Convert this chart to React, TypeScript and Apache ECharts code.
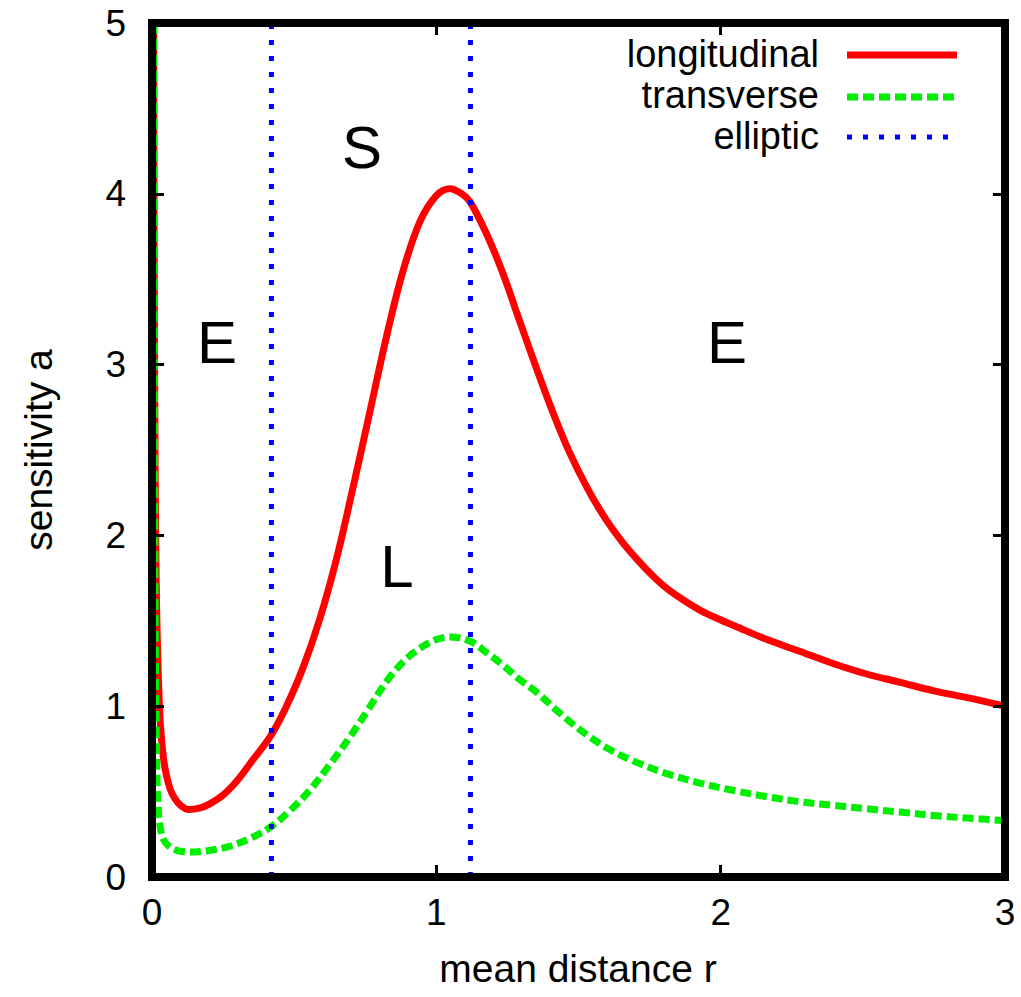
import React, { useEffect, useRef } from "react";
import * as echarts from "echarts";

// ---- data ----
const longitudinalX = [0.006, 0.008, 0.011, 0.015, 0.02, 0.025, 0.03, 0.04, 0.05, 0.065, 0.08, 0.1, 0.13, 0.17, 0.2, 0.25, 0.3, 0.35, 0.415, 0.47, 0.53, 0.59, 0.65, 0.707, 0.767, 0.827, 0.883, 0.943, 1.0, 1.048, 1.09, 1.12, 1.178, 1.235, 1.294, 1.354, 1.41, 1.47, 1.53, 1.59, 1.65, 1.706, 1.76, 1.81, 1.87, 1.93, 2.0, 2.05, 2.163, 2.28, 2.395, 2.51, 2.631, 2.75, 2.867, 3.0];
const longitudinalY = [5.0, 3.5, 2.4, 1.7, 1.3, 1.05, 0.88, 0.7, 0.6, 0.51, 0.46, 0.42, 0.395, 0.405, 0.425, 0.48, 0.565, 0.675, 0.82, 0.99, 1.22, 1.51, 1.87, 2.28, 2.73, 3.18, 3.55, 3.84, 3.99, 4.03, 4.0, 3.95, 3.76, 3.53, 3.25, 2.97, 2.72, 2.48, 2.28, 2.11, 1.97, 1.86, 1.765, 1.69, 1.62, 1.56, 1.505, 1.47, 1.39, 1.32, 1.25, 1.19, 1.14, 1.09, 1.05, 1.0];

const transverseX = [0.006, 0.008, 0.01, 0.012, 0.015, 0.018, 0.022, 0.028, 0.04, 0.06, 0.09, 0.134, 0.2, 0.274, 0.35, 0.415, 0.48, 0.556, 0.626, 0.696, 0.76, 0.827, 0.89, 0.943, 1.0, 1.048, 1.119, 1.18, 1.235, 1.29, 1.354, 1.42, 1.48, 1.54, 1.6, 1.692, 1.81, 1.927, 2.05, 2.163, 2.28, 2.395, 2.51, 2.631, 2.75, 2.867, 3.0];
const transverseY = [5.0, 3.0, 1.9, 1.3, 0.85, 0.55, 0.4, 0.3, 0.22, 0.18, 0.155, 0.146, 0.155, 0.18, 0.23, 0.29, 0.38, 0.51, 0.66, 0.82, 0.98, 1.15, 1.27, 1.34, 1.39, 1.405, 1.38, 1.31, 1.24, 1.16, 1.08, 0.98, 0.895, 0.82, 0.755, 0.68, 0.605, 0.55, 0.505, 0.47, 0.44, 0.42, 0.4, 0.38, 0.36, 0.345, 0.33];

const ellipticX = [0.42, 1.12];
const yRange = [0, 5];
const xTicks = [0, 1, 2, 3];

const regionLabels = [
  { text: "E", x: 217, y: 342 },
  { text: "S", x: 362, y: 147 },
  { text: "L", x: 397, y: 566 },
  { text: "E", x: 727, y: 342 },
];

const legendNames = ["longitudinal", "transverse", "elliptic"];

const FONT = "'Liberation Sans', Arial, Helvetica, sans-serif";
const RED = "#ff0000";
const GREEN = "#00ee00";
const BLUE = "#0000ff";

const zip = (xs: number[], ys: number[]) => xs.map((x, i) => [x, ys[i]]);

export default function App() {
  const ref = useRef<HTMLDivElement>(null);
  useEffect(() => {
    if (!ref.current) return;
    const chart = echarts.init(ref.current, null, { renderer: "svg" });

    const axisCommon = {
      type: "value" as const,
      splitLine: { show: false },
      axisLine: { show: true, onZero: false, lineStyle: { color: "#000", width: 8, cap: "square" } },
      axisTick: { show: true, inside: true, length: 12, lineStyle: { color: "#000", width: 3 } },
      z: 5,
    };

    const ellipticSeries = ellipticX.map((x) => ({
      name: "elliptic",
      type: "line",
      data: [[x, yRange[0]], [x, yRange[1]]],
      showSymbol: false,
      symbol: "none",
      lineStyle: { color: BLUE, width: 5, type: [5, 11] as any, cap: "butt" },
      z: 4,
    }));

    const legendY = [55, 97, 137];
    const legendTextY = [54, 95, 136];
    const legendColors = [RED, GREEN, BLUE];
    const legendDash: any[] = [null, [11, 5], [5, 11]];
    const legendWidth = [7, 7, 5];
    const legendEnd = [957, 957, 948];

    const graphics: any[] = [];
    legendNames.forEach((name, i) => {
      graphics.push({
        type: "text",
        x: 819,
        y: legendTextY[i],
        style: { text: name, fill: "#000", font: `38px ${FONT}`, align: "right", verticalAlign: "middle" },
        z: 10,
      });
      graphics.push({
        type: "line",
        shape: { x1: 847, y1: legendY[i], x2: legendEnd[i], y2: legendY[i] },
        style: { stroke: legendColors[i], lineWidth: legendWidth[i], lineDash: legendDash[i], lineCap: "butt" },
        z: 10,
      });
    });
    regionLabels.forEach((r) => {
      graphics.push({
        type: "text",
        x: r.x,
        y: r.y,
        style: { text: r.text, fill: "#000", font: `60px ${FONT}`, align: "center", verticalAlign: "middle" },
        z: 10,
      });
    });
    graphics.push({
      type: "text",
      x: 578,
      y: 968,
      style: { text: "mean distance r", fill: "#000", font: `39px ${FONT}`, align: "center", verticalAlign: "middle" },
    });
    graphics.push({
      type: "text",
      x: 38,
      y: 450,
      rotation: Math.PI / 2,
      style: { text: "sensitivity a", fill: "#000", font: `39px ${FONT}`, align: "center", verticalAlign: "middle" },
    });

    chart.setOption({
      animation: false,
      backgroundColor: "#fff",
      grid: {
        left: 152,
        right: 16,
        top: 23,
        bottom: 120,
        show: false,
      },
      xAxis: [
        {
          ...axisCommon,
          position: "bottom",
          min: xTicks[0],
          max: xTicks[xTicks.length - 1],
          interval: 1,
          axisLabel: { color: "#000", fontSize: 37, fontFamily: FONT, margin: 17 },
        },
        {
          ...axisCommon,
          position: "top",
          min: xTicks[0],
          max: xTicks[xTicks.length - 1],
          interval: 1,
          axisLabel: { show: false },
        },
      ],
      yAxis: [
        {
          ...axisCommon,
          position: "left",
          min: yRange[0],
          max: yRange[1],
          interval: 1,
          axisLabel: { color: "#000", fontSize: 37, fontFamily: FONT, margin: 26 },
        },
        {
          ...axisCommon,
          position: "right",
          min: yRange[0],
          max: yRange[1],
          interval: 1,
          axisLabel: { show: false },
        },
      ],
      series: [
        {
          name: "longitudinal",
          type: "line",
          data: zip(longitudinalX, longitudinalY),
          showSymbol: false,
          symbol: "none",
          smooth: 0.35,
          lineStyle: { color: RED, width: 7 },
          z: 2,
        },
        {
          name: "transverse",
          type: "line",
          data: zip(transverseX, transverseY),
          showSymbol: false,
          symbol: "none",
          smooth: 0.35,
          lineStyle: { color: GREEN, width: 7, type: [11, 5] as any, cap: "butt" },
          z: 3,
        },
        ...ellipticSeries,
      ],
      graphic: graphics,
    });

    return () => chart.dispose();
  }, []);

  return (
    <div
      ref={ref}
      style={{ position: "fixed", left: 0, top: 0, width: 1021, height: 997, background: "#fff" }}
    />
  );
}
